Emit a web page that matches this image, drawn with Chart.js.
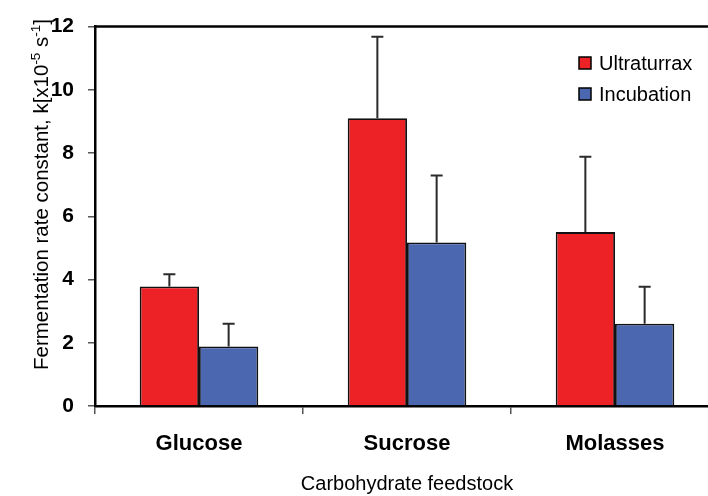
<!DOCTYPE html>
<html>
<head>
<meta charset="utf-8">
<script src="https://cdn.jsdelivr.net/npm/chart.js@4/dist/chart.umd.min.js"></script>
<style>
    html, body { margin: 0; padding: 0; overflow: hidden; background: #fff; }
    #wrap { position: absolute; left: 0; top: 0; width: 722px; height: 496px; }
</style>
</head>
<body>
<div id="wrap"><canvas id="chart1"></canvas></div>
<script>
const categories = ['Glucose', 'Sucrose', 'Molasses'];
const seriesNames = ['Ultraturrax', 'Incubation'];
const ultraturrax = [3.78, 9.1, 5.5];
const ultraturraxErr = [0.39, 2.58, 2.38];
const incubation = [1.88, 5.17, 2.6];
const incubationErr = [0.72, 2.12, 1.17];
const yTicks = [0, 2, 4, 6, 8, 10, 12];
const yTitleParts = [
    ['Fermentation rate constant, k[x10', false],
    ['-5', true],
    [' s', false],
    ['-1', true],
    [']', false]
];
const xTitle = 'Carbohydrate feedstock';

const colors = ['rgb(236, 34, 39)', 'rgb(74, 103, 175)'];
const fontFamily = '"Liberation Sans", Arial, sans-serif';

// error bars (upper only), drawn on top of bars
const errorBars = {
    id: 'errorBars',
    afterDatasetsDraw(chart) {
        const ctx = chart.ctx;
        const y = chart.scales.y;
        ctx.save();
        ctx.strokeStyle = '#2b2b2b';
        ctx.lineWidth = 2;
        chart.data.datasets.forEach((ds, i) => {
            const meta = chart.getDatasetMeta(i);
            meta.data.forEach((bar, j) => {
                const top = y.getPixelForValue(ds.data[j] + ds.errors[j]);
                ctx.beginPath();
                ctx.moveTo(bar.x, bar.y);
                ctx.lineTo(bar.x, top);
                ctx.moveTo(bar.x - 6, top);
                ctx.lineTo(bar.x + 6, top);
                ctx.stroke();
            });
        });
        ctx.restore();
    }
};

// top frame line, y title with superscripts, legend inside plot
const extras = {
    id: 'extras',
    afterDraw(chart) {
        const ctx = chart.ctx;
        const a = chart.chartArea;
        ctx.save();
        ctx.strokeStyle = '#000';
        ctx.lineWidth = 2.5;
        ctx.beginPath();
        ctx.moveTo(a.left - 1, a.top);
        ctx.lineTo(a.right, a.top);
        ctx.stroke();

        // y title
        ctx.translate(48, 370);
        ctx.rotate(-Math.PI / 2);
        ctx.fillStyle = '#000';
        ctx.textBaseline = 'alphabetic';
        let x = 0;
        yTitleParts.forEach(([t, sup]) => {
            ctx.font = (sup ? '13.5px ' : '20.5px ') + fontFamily;
            ctx.fillText(t, x, sup ? -8.5 : 0);
            x += ctx.measureText(t).width;
        });
        ctx.restore();

        // legend
        ctx.save();
        ctx.font = '20px ' + fontFamily;
        ctx.textBaseline = 'middle';
        chart.data.datasets.forEach((ds, i) => {
            const by = 57 + i * 31;
            ctx.fillStyle = ds.backgroundColor;
            ctx.fillRect(579, by, 12, 12);
            ctx.strokeStyle = '#000';
            ctx.lineWidth = 1.5;
            ctx.strokeRect(579, by, 12, 12);
            ctx.fillStyle = '#000';
            ctx.fillText(ds.label, 599, by + 7);
        });
        ctx.restore();
    }
};

const data1 = {
    labels: categories,
    datasets: [
        {
            label: seriesNames[0],
            data: ultraturrax,
            errors: ultraturraxErr,
            backgroundColor: colors[0],
            borderColor: '#111',
            borderWidth: 1.8,
        },
        {
            label: seriesNames[1],
            data: incubation,
            errors: incubationErr,
            backgroundColor: colors[1],
            borderColor: '#111',
            borderWidth: 1.8,
        }
    ]
};

const config1 = {
    type: 'bar',
    data: data1,
    options: {
        responsive: true,
        maintainAspectRatio: false,
        animation: false,
        categoryPercentage: 0.57,
        barPercentage: 1.0,
        layout: { padding: { top: 22, right: 3, left: 0, bottom: 0 } },
        plugins: {
            legend: { display: false },
            tooltip: { enabled: false }
        },
        scales: {
            x: {
                afterFit: (s) => { s.height = 90; },
                grid: {
                    drawOnChartArea: false,
                    tickLength: 8,
                    tickColor: '#555',
                    lineWidth: 1.5
                },
                border: { display: true, color: '#000', width: 2.5 },
                ticks: {
                    padding: 17,
                    color: '#000',
                    font: { family: fontFamily, size: 22, weight: 'bold' }
                },
                title: {
                    display: true,
                    text: xTitle,
                    color: '#000',
                    padding: { top: 0, bottom: 0 },
                    font: { family: fontFamily, size: 20 }
                }
            },
            y: {
                min: 0,
                max: 12,
                afterFit: (s) => { s.width = 95; },
                afterBuildTicks: (s) => { s.ticks = yTicks.map(v => ({ value: v })); },
                grid: {
                    drawOnChartArea: false,
                    tickLength: 7,
                    tickColor: '#555',
                    lineWidth: 1.5
                },
                border: { display: true, color: '#000', width: 2.5 },
                ticks: {
                    padding: 14,
                    color: '#000',
                    font: { family: fontFamily, size: 21, weight: 'bold' }
                }
            }
        }
    },
    plugins: [errorBars, extras]
};

const myChart1 = new Chart(document.getElementById('chart1').getContext('2d'), config1);
</script>
</body>
</html>
